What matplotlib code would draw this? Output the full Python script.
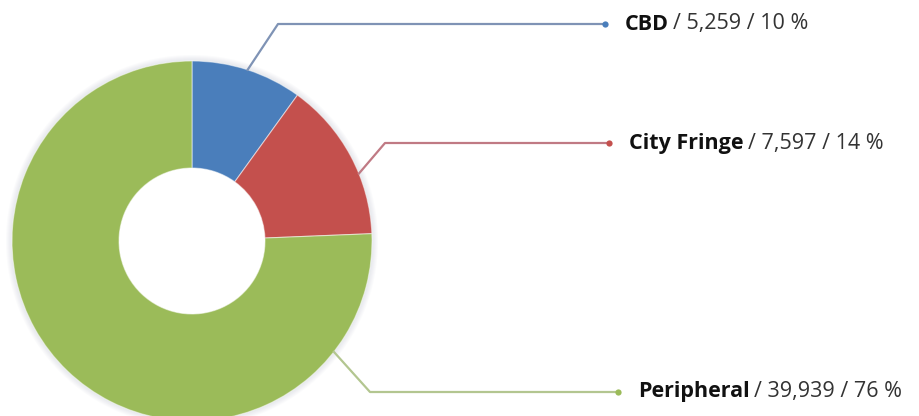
import matplotlib
matplotlib.use("Agg")
import matplotlib.pyplot as plt
import numpy as np
from matplotlib.patches import Wedge

# data
categories = ["CBD", "City Fringe", "Peripheral"]
counts = [5259, 7597, 39939]
percents = [10, 14, 76]
colors = ["#4a7ebb", "#c4504d", "#9bbb59"]
line_colors = ["#7f93b5", "#c07a84", "#b3c690"]

# layout (pixel coords of the original picture, y measured from top)
W, H = 919, 416
center = (192, 241)
radius = 180
hole = 73
attach_deg = [18, 68, 128]      # clockwise from 12 o'clock
elbow_x = [278, 385, 370]
label_y = [24, 143, 392]
dot_x = [605, 609, 618]

fig = plt.figure(figsize=(W / 100, H / 100), dpi=100)
ax = fig.add_axes([0, 0, 1, 1])

cx, cy = center[0], H - center[1]

# soft glow around the ring
for k in range(1, 7):
    ax.add_patch(Wedge((cx, cy), radius + k, 0, 360, width=6 + 2 * k,
                       facecolor="#b0b8c8", alpha=0.05, lw=0))

wedges, _ = ax.pie(counts, colors=colors, startangle=90, counterclock=False,
                   radius=radius, center=(cx, cy),
                   wedgeprops=dict(width=radius - hole, linewidth=0.8,
                                   edgecolor="#ffffff80"),
                   frame=False)
ax.set_xlim(0, W)
ax.set_ylim(0, H)
ax.set_aspect("auto")
ax.axis("off")

fig.canvas.draw()
renderer = fig.canvas.get_renderer()

for i, name in enumerate(categories):
    a = np.deg2rad(90 - attach_deg[i])
    x0 = cx + radius * np.cos(a)
    y0 = cy + radius * np.sin(a)
    ly = H - label_y[i]
    ax.plot([x0, elbow_x[i], dot_x[i]], [y0, ly, ly], color=line_colors[i], lw=1.6,
            solid_joinstyle="round")
    ax.plot(dot_x[i], ly, "o", color=colors[i], ms=4.5, mec="none")

    t = ax.text(dot_x[i] + 20, ly, name, fontsize=15.5, fontweight="bold",
                color="#111111", va="center", ha="left", family="Open Sans")
    bb = t.get_window_extent(renderer)
    x1 = ax.transData.inverted().transform((bb.x1, bb.y0))[0]
    ax.text(x1 + 4, ly, f"/ {counts[i]:,} / {percents[i]} %", fontsize=15.5,
            color="#333333", va="center", ha="left", family="Open Sans")

fig.savefig("out.png", dpi=100)
